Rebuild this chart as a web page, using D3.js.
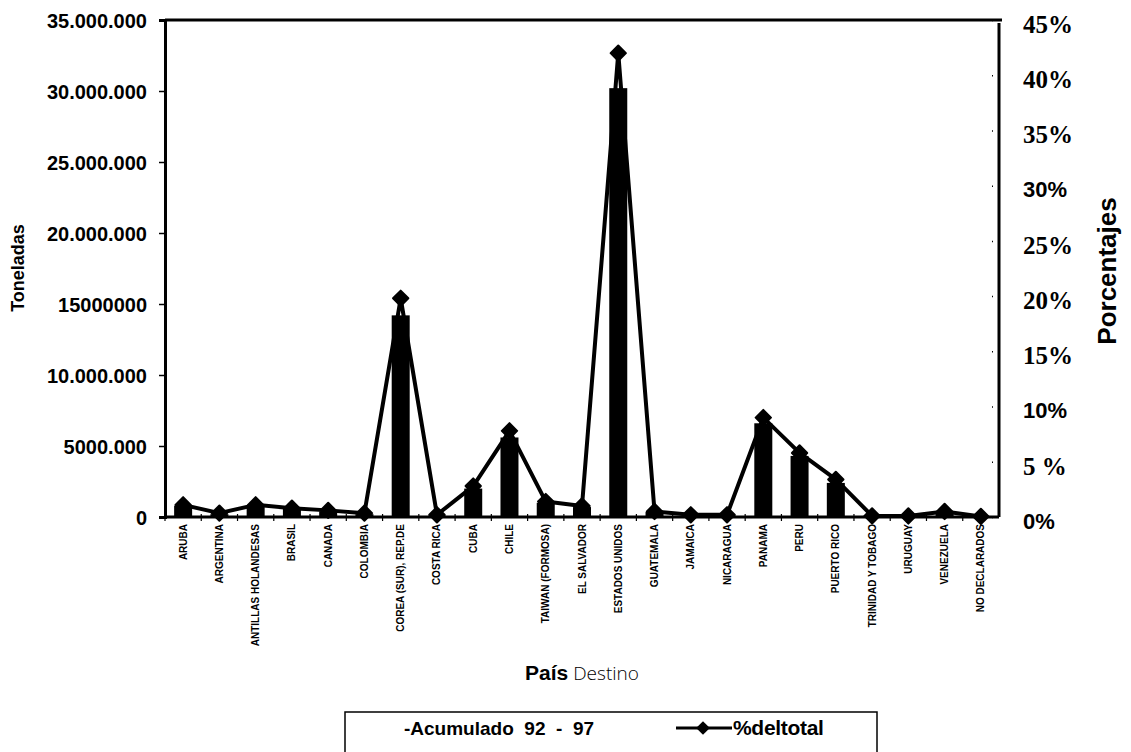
<!DOCTYPE html>
<html>
<head>
<meta charset="utf-8">
<script src="https://cdn.jsdelivr.net/npm/d3@7"></script>
<style>
  html, body { margin: 0; padding: 0; background: #fff; }
  svg { display: block; }
  text { fill: #000; }
</style>
</head>
<body>
<svg id="chart" width="1131" height="752"></svg>
<script>
// ---------- DATA ----------
const categories = [
  "ARUBA", "ARGENTINA", "ANTILLAS HOLANDESAS", "BRASIL", "CANADA", "COLOMBIA",
  "COREA (SUR), REP.DE", "COSTA RICA", "CUBA", "CHILE", "TAIWAN (FORMOSA)",
  "EL SALVADOR", "ESTADOS UNIDOS", "GUATEMALA", "JAMAICA", "NICARAGUA",
  "PANAMA", "PERU", "PUERTO RICO", "TRINIDAD Y TOBAGO", "URUGUAY",
  "VENEZUELA", "NO DECLARADOS"
];
// Acumulado 92 - 97 (toneladas)
const toneladas = [
  800000, 200000, 800000, 600000, 400000, 200000,
  14200000, 100000, 2000000, 5600000, 1000000,
  700000, 30200000, 350000, 100000, 100000,
  6600000, 4300000, 2400000, 50000, 50000,
  300000, 20000
];
// % del total
const porcentajes = [
  1.1, 0.35, 1.1, 0.8, 0.6, 0.35,
  19.8, 0.2, 2.8, 7.8, 1.4,
  1.0, 42.0, 0.5, 0.2, 0.2,
  9.0, 5.8, 3.4, 0.1, 0.1,
  0.5, 0.05
];
const leftTickValues = [0, 5000000, 10000000, 15000000, 20000000, 25000000, 30000000, 35000000];
const leftTickLabels = ["0", "5000.000", "10.000.000", "15000000", "20.000.000", "25.000.000", "30.000.000", "35.000.000"];
const rightTickValues = [0, 5, 10, 15, 20, 25, 30, 35, 40, 45];
const rightTickLabels = ["0%", "5 %", "10%", "15%", "20%", "25%", "30%", "35%", "40%", "45%"];
const yTitleLeft = "Toneladas";
const yTitleRight = "Porcentajes";
const legendBars = "-Acumulado  92  -  97";
const legendLine = "%deltotal";

// ---------- LAYOUT ----------
const svg = d3.select("#chart");
const plot = { left: 165, right: 999, top: 20, bottom: 517 };

const xc = d3.scaleBand().domain(categories).range([plot.left, plot.right]);
const yL = d3.scaleLinear().domain([0, 35000000]).range([plot.bottom, plot.top]);
const yR = d3.scaleLinear().domain([0, 45]).range([plot.bottom, plot.top]);

const sans = "'Liberation Sans', Arial, Helvetica, sans-serif";
const serif = "'Liberation Serif', 'Times New Roman', serif";
const cx = (d) => xc(d) + xc.bandwidth() / 2;

// Bars
svg.append("g").selectAll("rect")
  .data(categories)
  .join("rect")
  .attr("x", (d) => cx(d) - 9)
  .attr("width", 18)
  .attr("y", (d, i) => yL(toneladas[i]))
  .attr("height", (d, i) => plot.bottom - yL(toneladas[i]))
  .attr("fill", "#000");

// Line
const line = d3.line()
  .x((d, i) => cx(categories[i]))
  .y((d) => yR(d));
svg.append("path")
  .datum(porcentajes)
  .attr("d", line)
  .attr("fill", "none")
  .attr("stroke", "#000")
  .attr("stroke-width", 4)
  .attr("stroke-linejoin", "round");

// Markers
const diamond = d3.symbol().type(d3.symbolDiamond2).size(150);
svg.append("g").selectAll("path")
  .data(porcentajes)
  .join("path")
  .attr("d", diamond)
  .attr("transform", (d, i) => `translate(${cx(categories[i])},${yR(d)})`)
  .attr("fill", "#000")
  .attr("stroke", "#000")
  .attr("stroke-width", 2)
  .attr("stroke-linejoin", "round");

// Frame: top border
svg.append("line")
  .attr("x1", plot.left).attr("x2", plot.right + 3)
  .attr("y1", plot.top).attr("y2", plot.top)
  .attr("stroke", "#000").attr("stroke-width", 3);

// Left axis
const axL = d3.axisLeft(yL)
  .tickValues(leftTickValues)
  .tickFormat((d, i) => leftTickLabels[i])
  .tickSize(6)
  .tickPadding(12);
const gL = svg.append("g").attr("transform", `translate(${plot.left},0)`).call(axL);
gL.select(".domain").attr("stroke-width", 3);
gL.selectAll(".tick line").attr("stroke-width", 1.5);
gL.selectAll(".tick text")
  .attr("font-family", sans)
  .attr("font-weight", "bold")
  .attr("font-size", 20)
  .attr("dy", "0.36em");

// Right axis
const serifIdx = new Set([1, 3, 4, 5, 7, 8, 9]);
const axR = d3.axisRight(yR)
  .tickValues(rightTickValues)
  .tickFormat((d, i) => rightTickLabels[i])
  .tickSize(-3)
  .tickPadding(24);
const gR = svg.append("g").attr("transform", `translate(${plot.right},0)`).call(axR);
gR.select(".domain").attr("stroke-width", 3).attr("d", `M0,${plot.top + 3}V${plot.bottom}`);
gR.selectAll(".tick line").attr("stroke-width", 1.5).attr("transform", "translate(-6,0)").attr("x2", -1);
gR.selectAll(".tick text")
  .attr("font-family", (d, i) => serifIdx.has(i) ? serif : sans)
  .attr("font-weight", "bold")
  .attr("font-size", (d, i) => serifIdx.has(i) ? 25 : 22)
  .attr("dy", "0.5em");

// Bottom axis
const axB = d3.axisBottom(xc).tickSize(0).tickFormat("");
const gB = svg.append("g").attr("transform", `translate(0,${plot.bottom})`).call(axB);
gB.select(".domain").attr("stroke-width", 3).attr("d", `M${plot.left},0H${plot.right}`);
// minor ticks at band boundaries
svg.append("g").selectAll("line")
  .data(categories)
  .join("line")
  .attr("x1", (d) => xc(d)).attr("x2", (d) => xc(d))
  .attr("y1", plot.bottom - 3).attr("y2", plot.bottom + 4)
  .attr("stroke", "#000").attr("stroke-width", 1.2);

// Category labels (rotated)
svg.append("g").selectAll("text")
  .data(categories)
  .join("text")
  .attr("transform", (d) => `translate(${cx(d) + 3.5},${plot.bottom + 7}) rotate(-90)`)
  .attr("text-anchor", "end")
  .attr("font-family", sans)
  .attr("font-weight", "bold")
  .attr("font-size", 10)
  .text((d) => d);

// Axis titles
svg.append("text")
  .attr("transform", `translate(24,268) rotate(-90)`)
  .attr("text-anchor", "middle")
  .attr("font-family", sans)
  .attr("font-weight", "bold")
  .attr("font-size", 18)
  .text(yTitleLeft);

svg.append("text")
  .attr("transform", `translate(1116,271) rotate(-90)`)
  .attr("text-anchor", "middle")
  .attr("font-family", sans)
  .attr("font-weight", "bold")
  .attr("font-size", 26)
  .text(yTitleRight);

const xt = svg.append("text")
  .attr("x", 582).attr("y", 680)
  .attr("text-anchor", "middle")
  .attr("font-family", "'Open Sans', 'Noto Sans', sans-serif")
  .attr("font-size", 19);
xt.append("tspan").attr("font-family", sans).attr("font-weight", "bold").attr("font-size", 21).text("País");
xt.append("tspan").attr("font-weight", 300).text(" Destino");

// Legend
svg.append("rect")
  .attr("x", 345).attr("y", 712)
  .attr("width", 532).attr("height", 60)
  .attr("fill", "none").attr("stroke", "#000").attr("stroke-width", 1.5);

svg.append("text")
  .attr("x", 404).attr("y", 735)
  .attr("font-family", sans)
  .attr("font-weight", "bold")
  .attr("font-size", 19)
  .style("white-space", "pre")
  .text(legendBars);

svg.append("line")
  .attr("x1", 676).attr("x2", 732)
  .attr("y1", 728).attr("y2", 728)
  .attr("stroke", "#000").attr("stroke-width", 3);
svg.append("path")
  .attr("d", d3.symbol().type(d3.symbolDiamond2).size(120))
  .attr("transform", "translate(703,728)")
  .attr("fill", "#000");

svg.append("text")
  .attr("x", 733).attr("y", 735)
  .attr("font-family", sans)
  .attr("font-weight", "bold")
  .attr("font-size", 21)
  .attr("letter-spacing", -0.3)
  .text(legendLine);
</script>
</body>
</html>
